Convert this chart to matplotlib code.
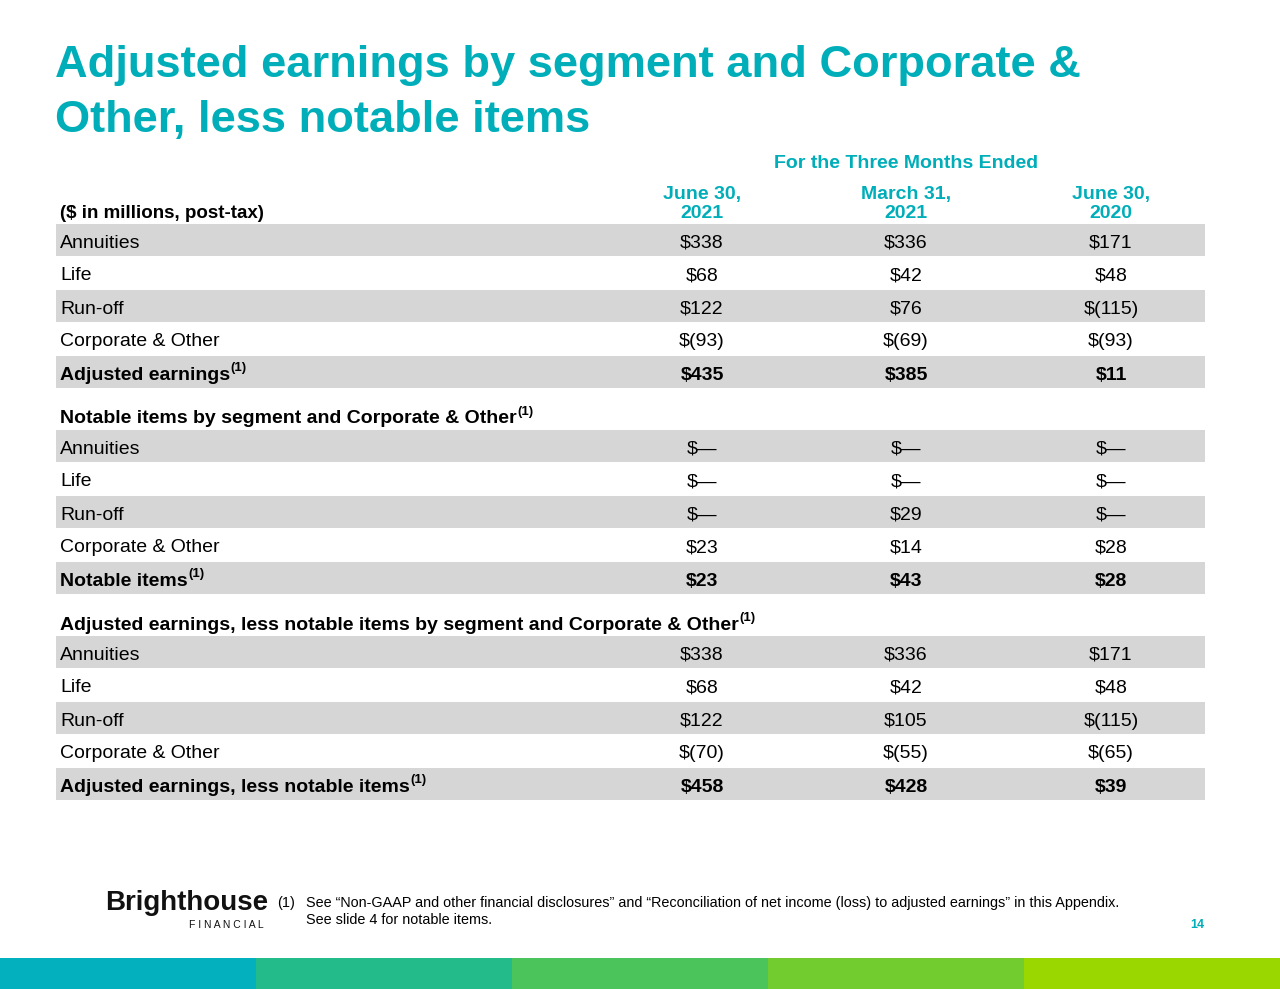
import matplotlib
matplotlib.use("Agg")
import matplotlib.pyplot as plt
from matplotlib.patches import Rectangle

plt.rcParams['font.family'] = ['Liberation Sans', 'DejaVu Sans']

TEAL = '#00AEB9'
GRAY = '#D6D6D6'
DY = 2.5  # va='center' sits a little high for these fonts

title_lines = ["Adjusted earnings by segment and Corporate &",
               "Other, less notable items"]
col_top = ["June 30,", "March 31,", "June 30,"]
col_bottom = ["2021", "2021", "2020"]

sec1_labels = ["Annuities", "Life", "Run-off", "Corporate & Other", "Adjusted earnings"]
sec1_q2_21 = [338, 68, 122, -93, 435]
sec1_q1_21 = [336, 42, 76, -69, 385]
sec1_q2_20 = [171, 48, -115, -93, 11]

sec2_title = "Notable items by segment and Corporate & Other"
sec2_labels = ["Annuities", "Life", "Run-off", "Corporate & Other", "Notable items"]
sec2_q2_21 = [None, None, None, 23, 23]
sec2_q1_21 = [None, None, 29, 14, 43]
sec2_q2_20 = [None, None, None, 28, 28]

sec3_title = "Adjusted earnings, less notable items by segment and Corporate & Other"
sec3_labels = ["Annuities", "Life", "Run-off", "Corporate & Other",
               "Adjusted earnings, less notable items"]
sec3_q2_21 = [338, 68, 122, -70, 458]
sec3_q1_21 = [336, 42, 105, -55, 428]
sec3_q2_20 = [171, 48, -115, -65, 39]

footnotes = ["See \u201cNon-GAAP and other financial disclosures\u201d and \u201cReconciliation of net income (loss) to adjusted earnings\u201d in this Appendix.",
             "See slide 4 for notable items."]
band_colors = ['#03B0BE', '#24BB8B', '#4BC45B', '#73CC2F', '#9AD600']


def fmt(v):
    if v is None:
        return "$\u2014"
    if v < 0:
        return "$(%d)" % -v
    return "$%d" % v


fig = plt.figure(figsize=(12.8, 9.89), dpi=100)
ax = fig.add_axes([0, 0, 1, 1])
ax.set_xlim(0, 1280)
ax.set_ylim(989, 0)
ax.axis('off')
fig.canvas.draw()
renderer = fig.canvas.get_renderer()


def txt(x, y, s, **kw):
    kw.setdefault('va', 'center')
    kw.setdefault('ha', 'left')
    return ax.text(x, y + DY, s, **kw)


def sup_text(x, y, s, size=14, weight='bold'):
    t = txt(x, y, s, fontsize=size, fontweight=weight)
    bb = t.get_window_extent(renderer)
    x1 = ax.transData.inverted().transform((bb.x1, bb.y0))[0]
    txt(x1 + 0.5, y - 7, "(1)", fontsize=size * 0.68, fontweight=weight)


# title
txt(55, 63, title_lines[0], fontsize=32.6, fontweight='bold', color=TEAL)
txt(55, 118, title_lines[1], fontsize=32.6, fontweight='bold', color=TEAL)

col_x = [702, 906, 1111]
txt(906, 161, "For the Three Months Ended", fontsize=14, fontweight='bold',
    color=TEAL, ha='center')
for x, a, b in zip(col_x, col_top, col_bottom):
    txt(x, 192, a, fontsize=14, fontweight='bold', color=TEAL, ha='center')
    txt(x, 211, b, fontsize=14, fontweight='bold', color=TEAL, ha='center')
txt(60, 211, "($ in millions, post-tax)", fontsize=13.5, fontweight='bold')

row_h = 33
left, right = 56, 1205


def draw_section(top, labels, c1, c2, c3):
    for i, lab in enumerate(labels):
        y0 = top + i * row_h
        if i % 2 == 0:
            ax.add_patch(Rectangle((left, y0), right - left, row_h - 1,
                                   facecolor=GRAY, edgecolor='none'))
        yc = y0 + row_h / 2
        last = i == len(labels) - 1
        w = 'bold' if last else 'normal'
        if last:
            sup_text(60, yc, lab)
        else:
            txt(60, yc, lab, fontsize=14)
        for x, v in zip(col_x, (c1[i], c2[i], c3[i])):
            txt(x, yc, fmt(v), fontsize=14, fontweight=w, ha='center')


draw_section(224, sec1_labels, sec1_q2_21, sec1_q1_21, sec1_q2_20)
sup_text(60, 416, sec2_title)
draw_section(430, sec2_labels, sec2_q2_21, sec2_q1_21, sec2_q2_20)
sup_text(60, 623, sec3_title)
draw_section(636, sec3_labels, sec3_q2_21, sec3_q1_21, sec3_q2_20)

# footer
txt(105, 901, "Brighthouse", fontsize=20, fontweight='bold', color='#111111')
txt(189, 922, "F I N A N C I A L", fontsize=7.5, color='#111111')
txt(277, 900, "(1)", fontsize=10.4)
txt(306, 900, footnotes[0], fontsize=10.4)
txt(306, 917, footnotes[1], fontsize=10.4)
txt(1204, 922, "14", fontsize=9, fontweight='bold', color=TEAL, ha='right')

seg_w = 1280 / len(band_colors)
for i, c in enumerate(band_colors):
    ax.add_patch(Rectangle((i * seg_w, 958), seg_w + 1, 31, facecolor=c, edgecolor='none'))

fig.savefig("out.png", dpi=100)
